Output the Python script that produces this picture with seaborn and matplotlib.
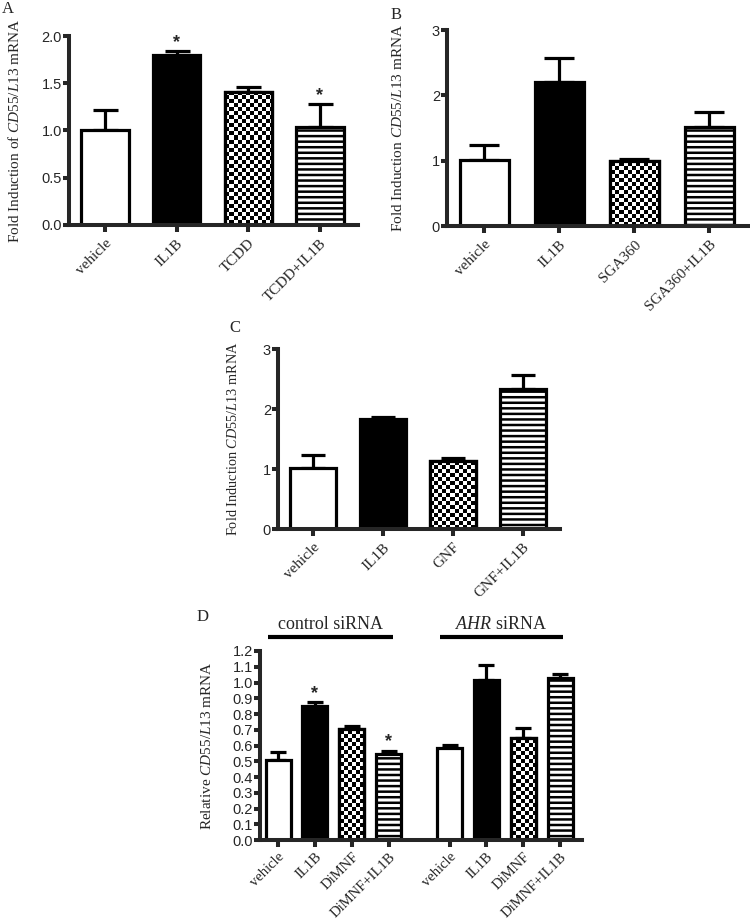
import numpy as np
import pandas as pd
import matplotlib
matplotlib.use("Agg")
import matplotlib.pyplot as plt
import matplotlib.transforms as mtransforms
from matplotlib.patches import Rectangle
import seaborn as sns

# ---------------- data ----------------
a_labels = ["vehicle", "IL1B", "TCDD", "TCDD+IL1B"]
a_means = [1.00, 1.80, 1.41, 1.04]
a_errs = [0.22, 0.04, 0.05, 0.24]
a_stars = [False, True, False, True]

b_labels = ["vehicle", "IL1B", "SGA360", "SGA360+IL1B"]
b_means = [1.01, 2.21, 0.99, 1.51]
b_errs = [0.23, 0.36, 0.04, 0.23]
b_stars = [False, False, False, False]

c_labels = ["vehicle", "IL1B", "GNF", "GNF+IL1B"]
c_means = [1.02, 1.83, 1.13, 2.33]
c_errs = [0.21, 0.03, 0.06, 0.24]
c_stars = [False, False, False, False]

d_groups = ["control siRNA", "AHR siRNA"]
d_labels = ["vehicle", "IL1B", "DiMNF", "DiMNF+IL1B"]
d_ctrl_means = [0.505, 0.850, 0.705, 0.547]
d_ctrl_errs = [0.053, 0.024, 0.021, 0.021]
d_ctrl_stars = [False, True, False, True]
d_ahr_means = [0.583, 1.015, 0.646, 1.027]
d_ahr_errs = [0.023, 0.095, 0.068, 0.026]
d_ahr_stars = [False, False, False, False]

kinds = ["open", "solid", "checker", "striped"]

# ---------------- style ----------------
sns.set_style("ticks")
plt.rcParams["font.family"] = ["Liberation Sans", "DejaVu Sans"]
plt.rcParams["mathtext.fontset"] = "custom"
plt.rcParams["mathtext.rm"] = "Liberation Serif"
plt.rcParams["mathtext.it"] = "Liberation Serif:italic"
plt.rcParams["hatch.linewidth"] = 1.8

W, H = 750, 922
fig = plt.figure(figsize=(W / 100, H / 100), dpi=100)
fig.patch.set_facecolor("white")

SERIF = "Liberation Serif"
LW = 2.3
SPINE_LW = 2.9
palette = {"open": "white", "solid": "black", "checker": "white", "striped": "white"}


def add_ax(l, r, t, b):
    return fig.add_axes([l / W, 1 - b / H, (r - l) / W, (b - t) / H])


def draw_panel(ax, positions, labels, means, errs, stars, kinds_list, ylim, yticks,
               yticklabels, ylabel, xlim, capsize, label_x, width=0.66,
               xfs=11.0, yfs=11.0, xpad=3.5):
    df = pd.DataFrame({"pos": positions, "mean": means, "kind": kinds_list})
    sns.barplot(data=df, x="pos", y="mean", hue="kind", palette=palette,
                native_scale=True, width=width, edgecolor="black", linewidth=LW,
                errorbar=None, legend=False, dodge=False, ax=ax, zorder=2)
    ax.errorbar(positions, means, yerr=[np.zeros(len(errs)), errs], fmt="none",
                ecolor="black", elinewidth=LW, capsize=capsize, capthick=LW, zorder=1)
    ax.set_xlim(*xlim)
    ax.set_ylim(*ylim)
    fig.canvas.draw()
    bb = ax.get_window_extent()
    cell = 4.0
    nx, ny = int(bb.width / cell) + 1, int(bb.height / cell) + 1
    checker = np.add.outer(np.arange(ny), np.arange(nx)) % 2
    for p in list(ax.patches):
        cx = p.get_x() + p.get_width() / 2
        i = int(np.argmin([abs(cx - q) for q in positions]))
        k = kinds_list[i]
        if k == "striped":
            p.set_hatch("---")
        elif k == "checker":
            im = ax.imshow(checker, extent=[0, nx * cell / bb.width, 1 - ny * cell / bb.height, 1],
                           transform=ax.transAxes, cmap="gray", interpolation="nearest",
                           aspect="auto", zorder=2.1)
            im.set_clip_path(p)
            ax.add_patch(Rectangle((p.get_x(), p.get_y()), p.get_width(), p.get_height(),
                                   fill=False, edgecolor="black", linewidth=LW, zorder=2.2))
    ax.set_xlim(*xlim)
    ax.set_ylim(*ylim)
    for x, m, e, s in zip(positions, means, errs, stars):
        if s:
            ax.text(x, m + e, "*", ha="center", va="bottom", fontsize=13,
                    fontweight="bold")
    ax.set_xticks(positions)
    ax.set_xticklabels(labels, rotation=45, ha="right", va="top",
                       rotation_mode="anchor", family=SERIF, fontsize=xfs)
    ax.set_yticks(yticks)
    ax.set_yticklabels(yticklabels, fontsize=10.5)
    ax.tick_params(axis="y", direction="out", length=4.5, width=SPINE_LW, pad=0.5)
    ax.tick_params(axis="x", direction="out", length=5, width=SPINE_LW, pad=xpad)
    ax.set_xlabel("")
    ax.set_ylabel(ylabel, family=SERIF, fontsize=yfs)
    ax.yaxis.label.set_va("center")
    ax.yaxis.set_label_coords(label_x, 0.5)
    for side in ["top", "right"]:
        ax.spines[side].set_visible(False)
    for side in ["left", "bottom"]:
        ax.spines[side].set_linewidth(SPINE_LW)
    ax.set_facecolor("none")


pos4 = [0, 1, 2, 3]
xl = (-0.5, 3.53)

axA = add_ax(69, 358, 36, 225)
draw_panel(axA, pos4, a_labels, a_means, a_errs, a_stars, kinds, (0, 2.0),
           [0, 0.5, 1.0, 1.5, 2.0], ["0.0", "0.5", "1.0", "1.5", "2.0"],
           r"Fold Induction of $\mathit{CD55/L13}$ mRNA", xl, 9, -0.187)

axB = add_ax(447, 749, 30, 226)
draw_panel(axB, pos4, b_labels, b_means, b_errs, b_stars, kinds, (0, 3),
           [0, 1, 2, 3], ["0", "1", "2", "3"],
           r"Fold Induction $\mathit{CD55/L13}$ mRNA", xl, 11, -0.162)

axC = add_ax(278, 560, 349, 529)
draw_panel(axC, pos4, c_labels, c_means, c_errs, c_stars, kinds, (0, 3),
           [0, 1, 2, 3], ["0", "1", "2", "3"],
           r"Fold Induction $\mathit{CD55/L13}$ mRNA", xl, 8.5, -0.16, yfs=10.3)

d_pos = [0, 1, 2, 3, 4.65, 5.65, 6.65, 7.65]
axD = add_ax(260, 582, 651, 840)
d_ticks = [round(0.1 * i, 1) for i in range(13)]
draw_panel(axD, d_pos, d_labels + d_labels, d_ctrl_means + d_ahr_means,
           d_ctrl_errs + d_ahr_errs, d_ctrl_stars + d_ahr_stars, kinds + kinds,
           (0, 1.2), d_ticks, [f"{t:.1f}" for t in d_ticks],
           r"Relative $\mathit{CD55/L13}$ mRNA", (-0.49, 8.24), 5.5, -0.165, width=0.68,
           xfs=10.5, xpad=2.5)

# group bars and labels for panel D
trans = mtransforms.blended_transform_factory(axD.transData, axD.transAxes)
for (x0, x1), name in zip([(-0.27, 3.12), (4.39, 7.72)], d_groups):
    axD.plot([x0, x1], [1.074, 1.074], color="black", lw=3, transform=trans,
             clip_on=False, solid_capstyle="butt")
    if name.startswith("AHR"):
        txt = r"$\mathit{AHR}$ siRNA"
    else:
        txt = name
    axD.text((x0 + x1) / 2, 1.095, txt, transform=trans, ha="center", va="bottom",
             family=SERIF, fontsize=13)

# panel letters
for letter, (px, py) in zip("ABCD", [(2, 1), (391, 7), (229, 320), (197, 609)]):
    fig.text(px / W, 1 - py / H, letter, ha="left", va="top", family=SERIF, fontsize=12)

fig.savefig("out.png", dpi=100, facecolor="white")
